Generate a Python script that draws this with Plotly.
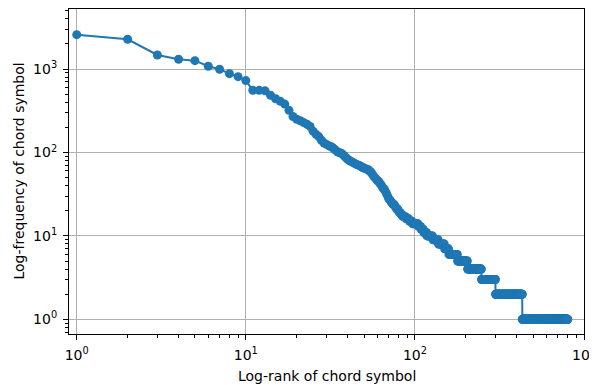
import numpy as np
import plotly.graph_objects as go

# Frequencies read for ranks 1..84 (one value per rank)
head_freqs = [2585, 2277, 1476, 1310, 1262, 1081, 995, 881, 811, 727,
              557, 556, 548, 485, 440, 410, 380, 320, 270, 250,
              240, 228, 218, 205, 180, 165, 155, 140, 130, 125,
              120, 117, 112, 106, 101, 99, 97, 92, 87, 83,
              80, 78, 76, 74, 72, 71, 70, 68, 66, 65,
              64, 63, 62, 60, 58, 55, 52, 50, 48, 46,
              45, 43, 41, 39, 37, 36, 34, 32, 30, 28,
              27, 26, 25, 24, 24, 23, 22, 21, 21, 20,
              19, 19, 18, 18]
# Tail: frequency levels and how many consecutive ranks share each level
tail_levels = [17, 16, 15, 14, 13, 12, 11, 10, 9, 8, 7, 6, 5, 4, 3, 2, 1]
tail_counts = [4, 4, 4, 8, 4, 4, 5, 10, 10, 12, 9, 20, 26, 43, 52, 132, 369]

x_tickvals = [1, 10, 100, 1000]
x_ticktext = ["10<sup>0</sup>", "10<sup>1</sup>", "10<sup>2</sup>", "10<sup>3</sup>"]
y_tickvals = [1, 10, 100, 1000]
y_ticktext = ["10<sup>0</sup>", "10<sup>1</sup>", "10<sup>2</sup>", "10<sup>3</sup>"]
x_title = "Log-rank of chord symbol"
y_title = "Log-frequency of chord symbol"

freqs = list(head_freqs)
for lvl, cnt in zip(tail_levels, tail_counts):
    freqs.extend([lvl] * cnt)
ranks = np.arange(1, len(freqs) + 1)

x_minor = [m * 10 ** k for k in range(0, 3) for m in range(2, 10)]
y_minor = [m * 10 ** k for k in range(-1, 4) for m in range(2, 10)]

fig = go.Figure()
fig.add_trace(go.Scatter(
    x=ranks, y=freqs, mode="lines+markers",
    line=dict(color="#1f77b4", width=2),
    marker=dict(color="#1f77b4", size=9, symbol="circle"),
    showlegend=False,
    cliponaxis=False,
))

font = dict(family="DejaVu Sans", size=14, color="black")
axis_common = dict(
    type="log", showline=True, linecolor="black", linewidth=1.1, mirror=True,
    ticks="outside", ticklen=5, tickwidth=1.1, tickcolor="black",
    showgrid=True, gridcolor="#b0b0b0", gridwidth=1.1, zeroline=False,
    tickfont=font, ticklabelstandoff=3, automargin=False,
)

# The page body adds an 8px offset, so the figure is 8px smaller than the window
fig.update_layout(
    width=589, height=377,
    margin=dict(l=61, r=13, t=1, b=51, autoexpand=False),
    paper_bgcolor="white", plot_bgcolor="white",
    font=font,
    xaxis=dict(
        axis_common,
        range=[np.log10(0.9), 3.0],
        tickmode="array", tickvals=x_tickvals, ticktext=x_ticktext,
        minor=dict(tickmode="array", tickvals=x_minor, ticks="outside", ticklen=3,
                   tickwidth=0.8, tickcolor="black", showgrid=False),
    ),
    yaxis=dict(
        axis_common,
        range=[-0.176, 3.72],
        tickmode="array", tickvals=y_tickvals, ticktext=y_ticktext,
        minor=dict(tickmode="array", tickvals=y_minor, ticks="outside", ticklen=3,
                   tickwidth=0.8, tickcolor="black", showgrid=False),
    ),
    annotations=[
        dict(text=x_title, xref="paper", yref="paper", x=0.5, y=0,
             xanchor="center", yanchor="top", yshift=-32, showarrow=False, font=font),
        dict(text=y_title, xref="paper", yref="paper", x=0, y=0.5,
             xanchor="center", yanchor="middle", xshift=-51, textangle=-90,
             showarrow=False, font=font),
    ],
)

fig.write_html("out.html")
